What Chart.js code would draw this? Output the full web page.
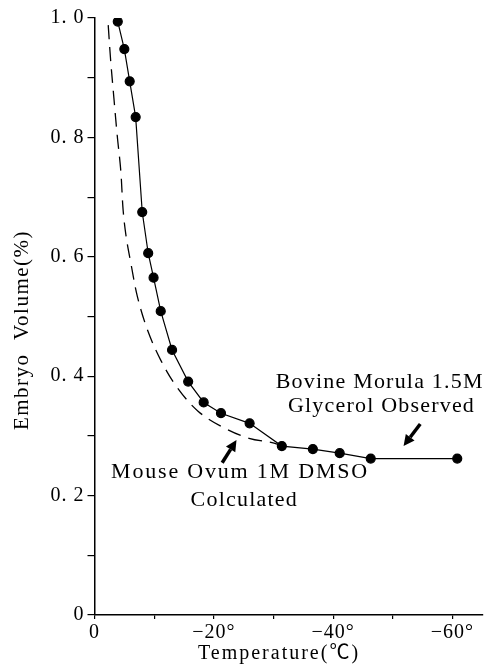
<!DOCTYPE html>
<html>
<head>
<meta charset="utf-8">
<script src="https://cdn.jsdelivr.net/npm/chart.js@4.4.1/dist/chart.umd.min.js"></script>
<style>
  body { margin: 0; background: #fff; }
  canvas { display: block; }
</style>
</head>
<body>
<canvas id="myChart" width="488" height="666"></canvas>
<script>
// Bovine morula, 1.5M glycerol (observed points)
const obsTemp   = [-3.9, -5.0, -5.9, -6.9, -8.0, -9.0, -9.9, -11.1, -13.0, -15.7, -18.3, -21.2, -26.0, -31.4, -36.6, -41.1, -46.3, -60.8];
const obsVolume = [0.994, 0.948, 0.894, 0.834, 0.675, 0.606, 0.565, 0.509, 0.444, 0.391, 0.356, 0.338, 0.321, 0.283, 0.278, 0.271, 0.262, 0.262];

// Mouse ovum, 1M DMSO (calculated curve)
const calcTemp   = [-2.3, -2.7, -3.25, -3.8, -4.4, -4.8, -5.3, -6.1, -7.2, -8.9, -11.1, -13.8, -17.4, -21.8, -25.9, -30.1, -31.4];
const calcVolume = [0.988, 0.930, 0.866, 0.804, 0.745, 0.678, 0.634, 0.589, 0.533, 0.477, 0.427, 0.382, 0.341, 0.313, 0.296, 0.288, 0.283];

const xTickValues = [0, -10, -20, -30, -40, -50, -60];
const xTickLabels = ['0', '', '\u221220\u00b0', '', '\u221240\u00b0', '', '\u221260\u00b0'];
const yTickValues = [0, 0.1, 0.2, 0.3, 0.4, 0.5, 0.6, 0.7, 0.8, 0.9, 1.0];
const yTickLabels = ['0', '', '0. 2', '', '0. 4', '', '0. 6', '', '0. 8', '', '1. 0'];

const notes = [
    { text: 'Bovine Morula 1.5M', x: -47.8, y: 0.390 },
    { text: 'Glycerol Observed', x: -48.1, y: 0.350 },
    { text: 'Mouse Ovum 1M DMSO', x: -24.4, y: 0.240 },
    { text: 'Colculated', x: -25.1, y: 0.193 }
];
const arrows = [
    { from: [-21.4, 0.255], to: [-23.8, 0.293] },
    { from: [-54.6, 0.320], to: [-51.8, 0.283] }
];

const SERIF = '"Liberation Serif", "Noto Sans CJK JP", serif';

function toPoints(xs, ys) {
    return xs.map(function(x, i) { return { x: x, y: ys[i] }; });
}

const extras = {
    id: 'extras',
    beforeDraw: function(chart) {
        chart.ctx.letterSpacing = '1px';
    },
    afterDraw: function(chart) {
        var ctx = chart.ctx;
        var xs = chart.scales.x, ys = chart.scales.y;
        ctx.save();
        ctx.fillStyle = '#000';
        ctx.strokeStyle = '#000';
        ctx.textAlign = 'center';
        ctx.textBaseline = 'middle';

        ctx.font = '22px ' + SERIF;
        notes.forEach(function(n) {
            ctx.letterSpacing = n.text.indexOf('DMSO') >= 0 ? '1.8px' : '1.2px';
            ctx.fillText(n.text, xs.getPixelForValue(n.x), ys.getPixelForValue(n.y));
        });

        arrows.forEach(function(a) {
            var x1 = xs.getPixelForValue(a.from[0]), y1 = ys.getPixelForValue(a.from[1]);
            var x2 = xs.getPixelForValue(a.to[0]), y2 = ys.getPixelForValue(a.to[1]);
            var ang = Math.atan2(y2 - y1, x2 - x1);
            var hl = 11, hw = 5.5;
            var bx = x2 - hl * Math.cos(ang), by = y2 - hl * Math.sin(ang);
            ctx.lineWidth = 3.5;
            ctx.beginPath();
            ctx.moveTo(x1, y1);
            ctx.lineTo(bx, by);
            ctx.stroke();
            ctx.beginPath();
            ctx.moveTo(x2, y2);
            ctx.lineTo(bx + hw * Math.sin(ang), by - hw * Math.cos(ang));
            ctx.lineTo(bx - hw * Math.sin(ang), by + hw * Math.cos(ang));
            ctx.closePath();
            ctx.fill();
        });

        // axis titles
        ctx.font = '20px ' + SERIF;
        ctx.letterSpacing = '2px';
        ctx.fillText('Temperature(\u2103)', 279, 654);
        ctx.translate(22, 330);
        ctx.rotate(-Math.PI / 2);
        ctx.font = '21px ' + SERIF;
        ctx.letterSpacing = '1.5px';
        ctx.fillText('Embryo  Volume(%)', 0, 0);
        ctx.restore();
    }
};

var ctx = document.getElementById('myChart').getContext('2d');
new Chart(ctx, {
    type: 'scatter',
    data: {
        datasets: [{
            label: 'Bovine Morula 1.5M Glycerol Observed',
            data: toPoints(obsTemp, obsVolume),
            showLine: true,
            borderColor: '#000',
            backgroundColor: '#000',
            borderWidth: 1.2,
            pointRadius: 4.5,
            tension: 0
        }, {
            label: 'Mouse Ovum 1M DMSO Colculated',
            data: toPoints(calcTemp, calcVolume),
            showLine: true,
            borderColor: '#000',
            borderWidth: 1.3,
            borderDash: [14, 8],
            pointRadius: 0,
            tension: 0.35
        }]
    },
    options: {
        responsive: false,
        animation: false,
        layout: { padding: { top: 18, right: 0, left: 0, bottom: 0 } },
        plugins: {
            legend: { display: false },
            tooltip: { enabled: false }
        },
        scales: {
            x: {
                type: 'linear',
                min: -65,
                max: 0,
                reverse: true,
                afterBuildTicks: function(scale) {
                    scale.ticks = xTickValues.map(function(v) { return { value: v }; });
                },
                afterFit: function(scale) { scale.height = 51; },
                grid: { display: true, drawOnChartArea: false, drawTicks: true, tickLength: 4, color: '#000', lineWidth: 1.2 },
                border: { display: true, color: '#000', width: 1.5 },
                ticks: {
                    color: '#000',
                    padding: 2,
                    maxRotation: 0,
                    autoSkip: false,
                    font: { family: SERIF, size: 20 },
                    callback: function(value) {
                        var i = xTickValues.indexOf(value);
                        return i >= 0 ? xTickLabels[i] : '';
                    }
                }
            },
            y: {
                type: 'linear',
                min: 0,
                max: 1.0,
                afterBuildTicks: function(scale) {
                    scale.ticks = yTickValues.map(function(v) { return { value: v }; });
                },
                afterFit: function(scale) { scale.width = 94.5; },
                grid: { display: true, drawOnChartArea: false, drawTicks: true, tickLength: 7, color: '#000', lineWidth: 1.2 },
                border: { display: true, color: '#000', width: 1.5 },
                ticks: {
                    color: '#000',
                    padding: 3,
                    autoSkip: false,
                    font: { family: SERIF, size: 20 },
                    callback: function(value) {
                        var i = yTickValues.findIndex(function(v) { return Math.abs(v - value) < 1e-6; });
                        return i >= 0 ? yTickLabels[i] : '';
                    }
                }
            }
        }
    },
    plugins: [extras]
});
</script>
</body>
</html>
